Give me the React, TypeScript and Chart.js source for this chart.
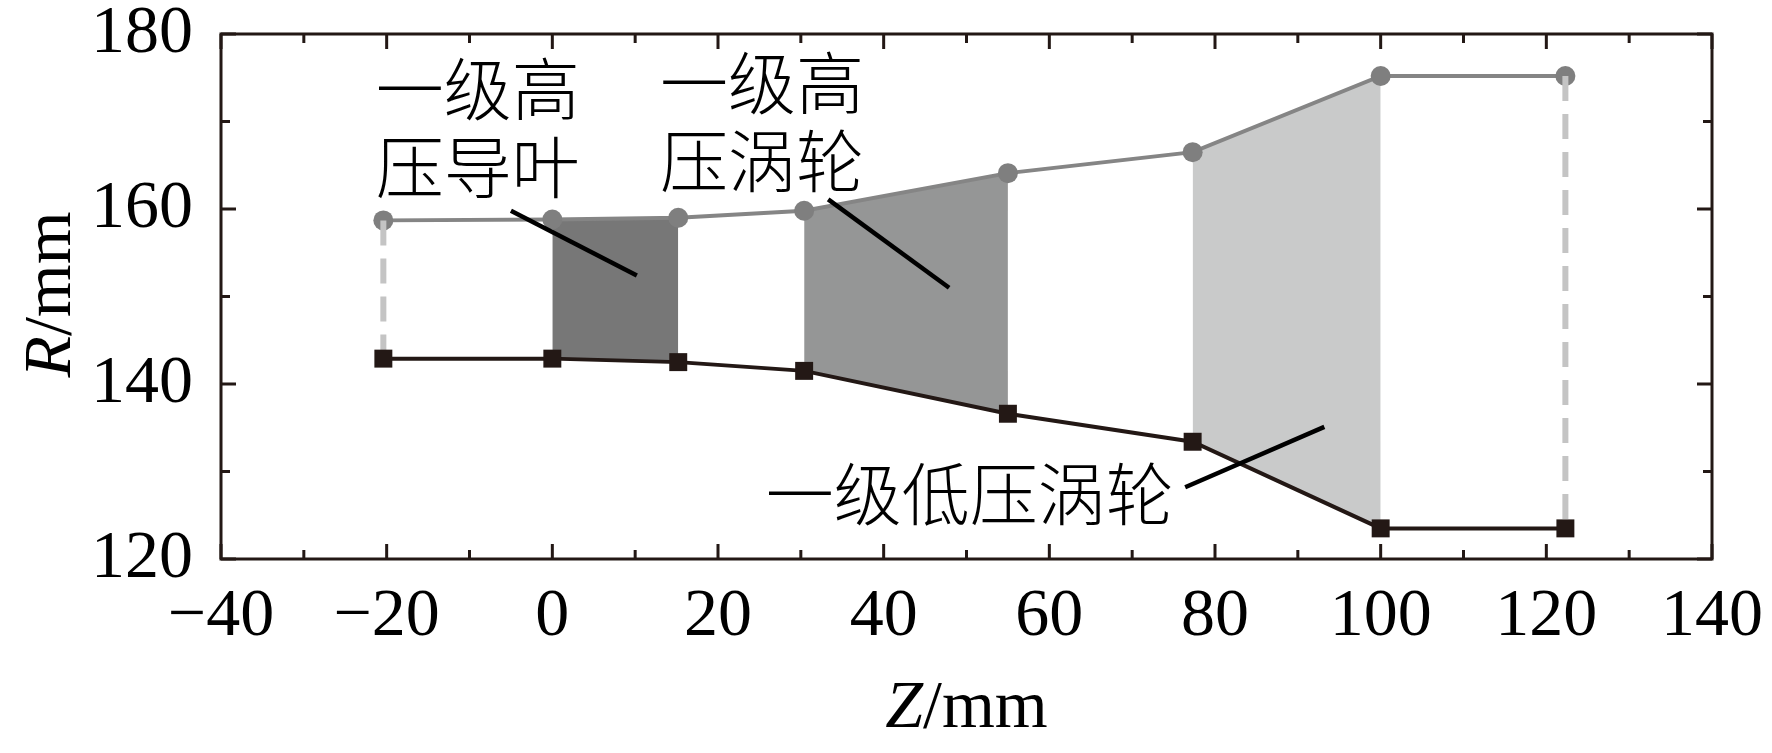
import React, { useEffect, useRef } from 'react';
import { Chart, registerables } from 'chart.js';

Chart.register(...registerables);

// ---- data ----
const zPositions = [-20.4, 0, 15.2, 30.4, 55, 77.3, 100, 122.3];
const outerRadius = [158.7, 158.8, 159.0, 159.8, 164.1, 166.5, 175.2, 175.2];
const innerRadius = [142.9, 142.9, 142.5, 141.5, 136.6, 133.4, 123.5, 123.5];

const xTickValues = [-40, -20, 0, 20, 40, 60, 80, 100, 120, 140];
const xMinorTickValues = [-30, -10, 10, 30, 50, 70, 90, 110, 130];
const yTickValues = [120, 140, 160, 180];
const yMinorTickValues = [130, 150, 170];

// stage regions: start index into the point arrays (region spans idx..idx+1)
const stageStartIndex = [1, 3, 5];
const stageColors = ['#777777', '#959696', '#c9caca'];
// dashed verticals at these point indices
const dashedIndices = [0, 7];

// annotation texts (lines) and their anchor in data coordinates (centre of first line)
const annotationTexts = [
  ['一级高', '压导叶'],
  ['一级高', '压涡轮'],
  ['一级低压涡轮'],
];
const annotationAnchors = [
  [-9.0, 173.7],
  [25.3, 174.4],
  [50.4, 127.4],
];
// leader lines in data coordinates [x1, y1, x2, y2]
const leaderLines = [
  [-5.0, 159.8, 10.2, 152.4],
  [33.3, 161.1, 47.9, 151.0],
  [76.4, 128.2, 93.2, 135.1],
];

const SERIF = '"Liberation Serif", "Times New Roman", serif';
const CJK = '"Noto Sans CJK SC", sans-serif';
const FRAME = '#231815';

const fmt = (v: number) => (v < 0 ? '\u2212' + Math.abs(v) : String(v));

const decorPlugin = {
  id: 'decor',
  afterDraw(chart: any) {
    const { ctx, chartArea: a, scales } = chart;
    const xs = scales.x;
    const ys = scales.y;
    ctx.save();
    ctx.strokeStyle = FRAME;
    ctx.lineWidth = 3;
    ctx.lineCap = 'butt';

    const xTicks = (vals: number[], len: number) => {
      vals.forEach((v) => {
        const px = xs.getPixelForValue(v);
        ctx.beginPath();
        ctx.moveTo(px, a.bottom);
        ctx.lineTo(px, a.bottom - len);
        ctx.moveTo(px, a.top);
        ctx.lineTo(px, a.top + len);
        ctx.stroke();
      });
    };
    const yTicks = (vals: number[], len: number) => {
      vals.forEach((v) => {
        const py = ys.getPixelForValue(v);
        ctx.beginPath();
        ctx.moveTo(a.left, py);
        ctx.lineTo(a.left + len, py);
        ctx.moveTo(a.right, py);
        ctx.lineTo(a.right - len, py);
        ctx.stroke();
      });
    };
    xTicks(xTickValues, 15);
    xTicks(xMinorTickValues, 9);
    yTicks(yTickValues, 15);
    yTicks(yMinorTickValues, 9);
    ctx.strokeRect(a.left, a.top, a.right - a.left, a.bottom - a.top);

    // leader lines
    ctx.strokeStyle = '#000';
    ctx.lineWidth = 4.5;
    leaderLines.forEach(([x1, y1, x2, y2]) => {
      ctx.beginPath();
      ctx.moveTo(xs.getPixelForValue(x1), ys.getPixelForValue(y1));
      ctx.lineTo(xs.getPixelForValue(x2), ys.getPixelForValue(y2));
      ctx.stroke();
    });

    // annotations
    ctx.fillStyle = '#000';
    ctx.font = `300 68px ${CJK}`;
    ctx.textAlign = 'center';
    ctx.textBaseline = 'alphabetic';
    annotationTexts.forEach((lines, i) => {
      const cx = xs.getPixelForValue(annotationAnchors[i][0]);
      const cy = ys.getPixelForValue(annotationAnchors[i][1]);
      lines.forEach((t, j) => {
        ctx.fillText(t, cx, cy + 26 + j * 78);
      });
    });

    // axis titles with italic variable
    const drawTitle = (italic: string, rest: string, cx: number, baseY: number) => {
      ctx.font = `italic 68px ${SERIF}`;
      const w1 = ctx.measureText(italic).width;
      ctx.font = `68px ${SERIF}`;
      const w2 = ctx.measureText(rest).width;
      const start = cx - (w1 + w2) / 2;
      ctx.textAlign = 'left';
      ctx.font = `italic 68px ${SERIF}`;
      ctx.fillText(italic, start, baseY);
      ctx.font = `68px ${SERIF}`;
      ctx.fillText(rest, start + w1, baseY);
    };
    ctx.textBaseline = 'alphabetic';
    drawTitle('Z', '/mm', (a.left + a.right) / 2, 727);
    ctx.save();
    ctx.translate(70, (a.top + a.bottom) / 2 - 2);
    ctx.rotate(-Math.PI / 2);
    drawTitle('R', '/mm', 0, 0);
    ctx.restore();

    ctx.restore();
  },
};

export default function App() {
  const ref = useRef<HTMLCanvasElement>(null);

  useEffect(() => {
    if (!ref.current) return;

    const pts = (ys: number[], idx: number[]) => idx.map((i) => ({ x: zPositions[i], y: ys[i] }));
    const allIdx = zPositions.map((_, i) => i);

    const datasets: any[] = [];
    // stage fills
    stageStartIndex.forEach((s, k) => {
      const idx = [s, s + 1];
      datasets.push({
        data: pts(outerRadius, idx),
        borderWidth: 0,
        pointRadius: 0,
        backgroundColor: stageColors[k],
        borderColor: 'rgba(0,0,0,0)',
        fill: '+1',
        order: 10,
      });
      datasets.push({
        data: pts(innerRadius, idx),
        borderWidth: 0,
        pointRadius: 0,
        borderColor: 'rgba(0,0,0,0)',
        fill: false,
        order: 10,
      });
    });
    // outer line (circles)
    datasets.push({
      data: pts(outerRadius, allIdx),
      borderColor: '#858585',
      borderWidth: 4,
      pointStyle: 'circle',
      pointRadius: 10,
      pointBackgroundColor: '#7f7f7f',
      pointBorderWidth: 0,
      fill: false,
      order: 2,
    });
    // inner line (squares)
    datasets.push({
      data: pts(innerRadius, allIdx),
      borderColor: FRAME,
      borderWidth: 4,
      pointStyle: 'rect',
      pointRadius: 12.7,
      pointBackgroundColor: FRAME,
      pointBorderWidth: 0,
      fill: false,
      order: 0,
    });
    // dashed verticals
    dashedIndices.forEach((i) => {
      datasets.push({
        data: [
          { x: zPositions[i], y: outerRadius[i] },
          { x: zPositions[i], y: innerRadius[i] },
        ],
        borderColor: '#c4c4c4',
        borderWidth: 6,
        borderDash: [25, 13],
        pointRadius: 0,
        fill: false,
        order: 1,
      });
    });

    const tickFont = { family: SERIF, size: 68 };

    const chart = new Chart(ref.current, {
      type: 'line',
      data: { datasets },
      options: {
        animation: false,
        responsive: false,
        devicePixelRatio: 1,
        layout: { padding: { top: 34, right: 60, left: 0, bottom: 0 } },
        plugins: { legend: { display: false }, tooltip: { enabled: false } },
        elements: { line: { tension: 0 } },
        scales: {
          x: {
            type: 'linear',
            min: -40,
            max: 140,
            grid: { display: false, drawTicks: false },
            border: { display: false },
            afterFit: (s: any) => {
              s.height = 194;
              s.paddingLeft = 0;
              s.paddingRight = 0;
            },
            afterBuildTicks: (s: any) => {
              s.ticks = xTickValues.map((v) => ({ value: v }));
            },
            ticks: {
              font: tickFont,
              color: '#000',
              padding: 17,
              maxRotation: 0,
              autoSkip: false,
              callback: (v: any) => fmt(Number(v)),
            },
          },
          y: {
            type: 'linear',
            min: 120,
            max: 180,
            grid: { display: false, drawTicks: false },
            border: { display: false },
            afterFit: (s: any) => {
              s.width = 221;
              s.paddingTop = 0;
              s.paddingBottom = 0;
            },
            afterBuildTicks: (s: any) => {
              s.ticks = yTickValues.map((v) => ({ value: v }));
            },
            ticks: {
              font: tickFont,
              color: '#000',
              padding: 28,
              autoSkip: false,
              callback: (v: any) => fmt(Number(v)),
            },
          },
        },
      },
      plugins: [decorPlugin],
    } as any);

    return () => chart.destroy();
  }, []);

  return (
    <div style={{ position: 'absolute', left: 0, top: 0, width: 1772, height: 753, background: '#fff' }}>
      <canvas ref={ref} width={1772} height={753} style={{ display: 'block' }} />
    </div>
  );
}
